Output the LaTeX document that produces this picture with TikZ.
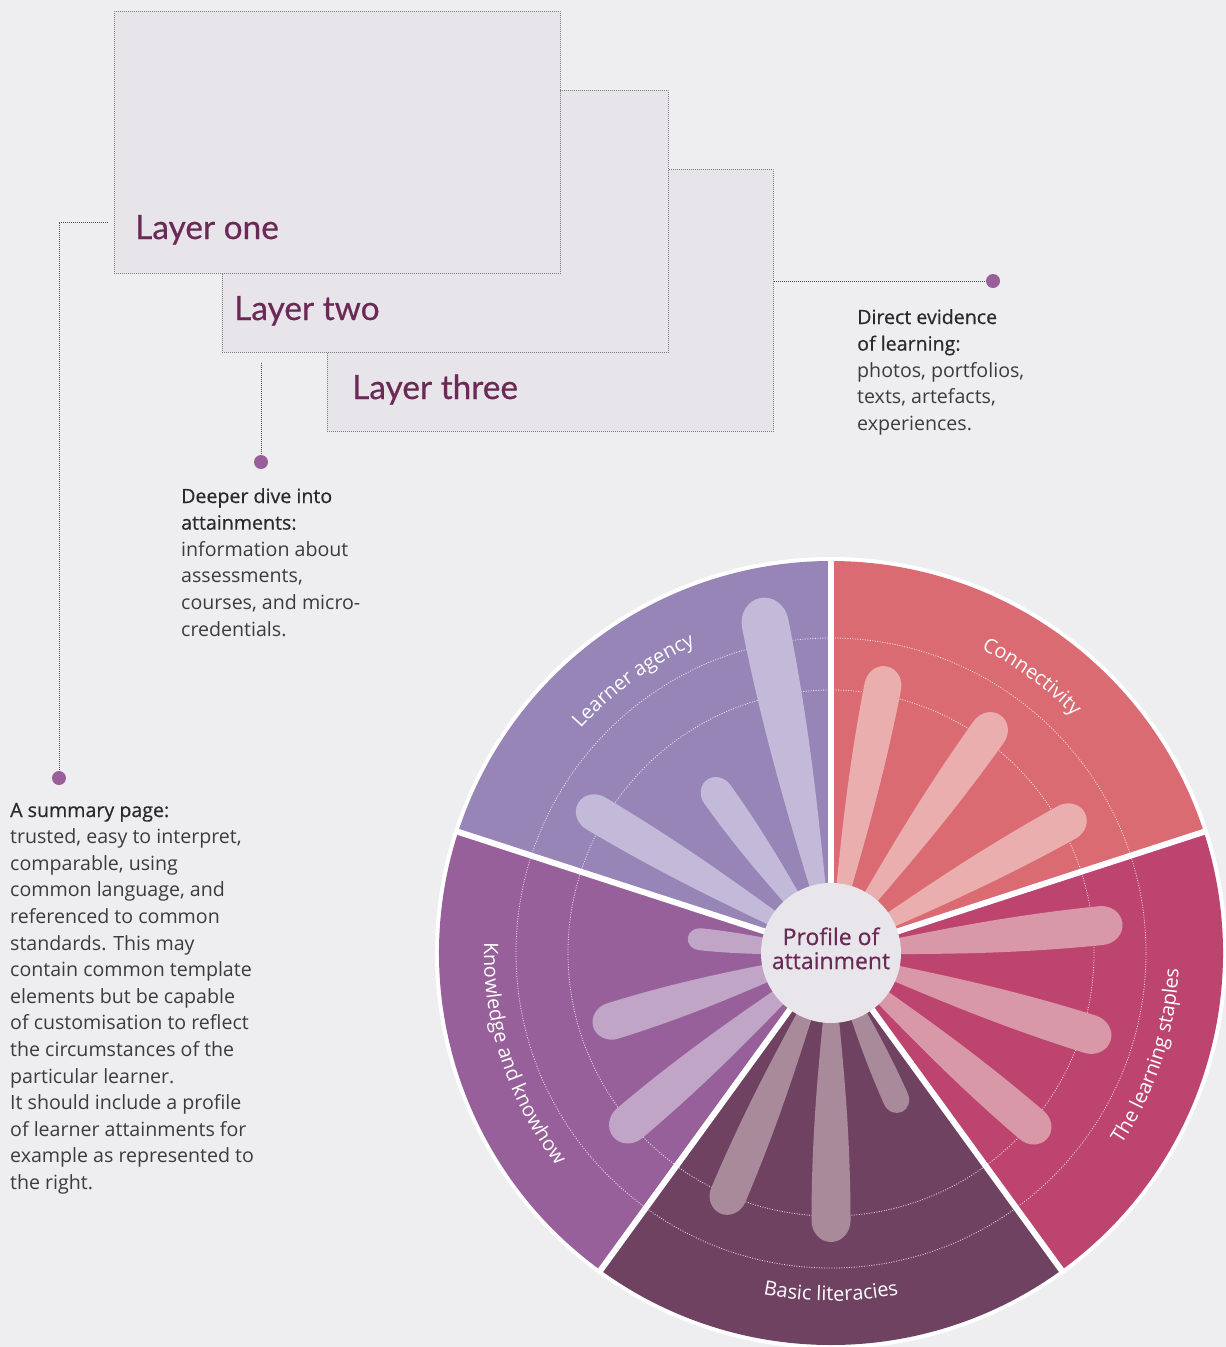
\documentclass[tikz,border=0pt]{standalone}
\usepackage{fontspec}
\setmainfont{Open Sans}
\newfontfamily\layerfont[FakeBold=0.6]{Lato}
\newfontfamily\hdrfont[FakeBold=0.5]{Open Sans}
\newfontfamily\segfont{Open Sans}
\usetikzlibrary{calc,decorations.text}
\definecolor{bg}{HTML}{EEEEF0}
\definecolor{boxfill}{HTML}{E8E5EA}
\definecolor{boxline}{HTML}{7A7A7A}
\definecolor{plum}{HTML}{6B2A56}
\definecolor{dotc}{HTML}{9A5E9B}
\definecolor{bodytxt}{HTML}{3C3C3C}
\definecolor{hdrtxt}{HTML}{2A2A2A}
\definecolor{ctr}{HTML}{E8E6EB}
\definecolor{sConn}{HTML}{DB6B73}
\definecolor{pConn}{HTML}{EAAEAE}
\definecolor{sStap}{HTML}{BE4470}
\definecolor{pStap}{HTML}{D998A8}
\definecolor{sLit}{HTML}{704262}
\definecolor{pLit}{HTML}{A88A9A}
\definecolor{sKnow}{HTML}{97609A}
\definecolor{pKnow}{HTML}{C1A5C7}
\definecolor{sAg}{HTML}{9685B6}
\definecolor{pAg}{HTML}{C3BAD9}
\newcommand\tl[1]{\begin{tabular}[t]{@{}l@{}}#1\end{tabular}}
\newcommand\hd[1]{{\hdrfont\color{hdrtxt}#1}}
\newcommand\seglab{\segfont\fontsize{20}{20}\selectfont\color{white}}
% angle, outer extent, tip half-width, colour
\newcommand\drawpetal[4]{%
  \begin{scope}[shift={(831,-953)},rotate=#1]
    \fill[#4] (0,-1.5) .. controls ({0.3*(#2-1.1*#3)},{-0.45*#3}) and ({0.6*(#2-1.1*#3)},{-#3}) .. ({#2-1.1*#3},{-#3})
      arc[start angle=-90,end angle=90,x radius={1.1*#3},y radius=#3]
      .. controls ({0.6*(#2-1.1*#3)},{#3}) and ({0.3*(#2-1.1*#3)},{0.45*#3}) .. (0,1.5) -- cycle;
  \end{scope}}
\newcommand\drawsector[3]{%
  \fill[#3] (831,-953) -- ([shift={(831,-953)}]#1:392) arc[start angle=#1,end angle=#2,radius=392] -- cycle;}
\begin{document}
\begin{tikzpicture}[x=1pt,y=1pt,
  layerbox/.style={draw=boxline, fill=boxfill, line width=0.8pt, dash pattern=on 0.8pt off 1.2pt,
    minimum width=446pt, minimum height=262pt, anchor=north west, inner sep=0pt},
  layerlabel/.style={font=\layerfont\fontsize{33.4}{33.4}\selectfont, text=plum, anchor=base west, inner sep=0pt},
  conn/.style={draw=black!70, line width=0.8pt, dash pattern=on 0.8pt off 1.2pt},
  dot/.style={circle, fill=dotc, minimum size=14pt, inner sep=0pt},
  body/.style={font=\fontsize{19.6}{26.6}\selectfont, text=bodytxt, anchor=base west, inner sep=0pt},
  ring/.style={white, line width=0.8pt, dash pattern=on 1pt off 1.5pt, opacity=0.8},
  divider/.style={white, line width=6pt}
]
\fill[bg] (0,0) rectangle (1226,-1347);
\useasboundingbox (0,0) rectangle (1226,-1347);

% layers
\node[layerbox] (L3) at (327,-169) {};
\node[layerbox] (L2) at (222,-90) {};
\node[layerbox] (L1) at (114,-11) {};
\node[layerlabel] (t1) at (135,-239) {Layer one};
\node[layerlabel] (t2) at (234,-320) {Layer two};
\node[layerlabel] (t3) at (352,-399) {Layer three};

% connectors and dots
\coordinate (c1) at (108,-222);
\coordinate (c2) at (261,-363);
\coordinate (c3) at (774,-281);
\node[dot] (d1) at (59,-778) {};
\node[dot] (d2) at (261,-462) {};
\node[dot] (d3) at (993,-281) {};
\draw[conn] (c1) -| (d1);
\draw[conn] (c2) -- (d2);
\draw[conn] (c3) -- (d3);

% text blocks
\node[body] (txt3) at (857,-324) {\tl{\hd{Direct evidence}\\\hd{of learning:}\\photos, portfolios,\\texts, artefacts,\\experiences.}};
\node[body] (txt2) at (181,-503) {\tl{\hd{Deeper dive into}\\\hd{attainments:}\\information about\\assessments,\\courses, and micro-\\credentials.}};
\node[body] (txt1) at (10,-817) {\tl{\hd{A summary page:}\\trusted, easy to interpret,\\comparable, using\\common language, and\\referenced to common\\standards. This may\\contain common template\\elements but be capable\\of customisation to reflect\\the circumstances of the\\particular learner.\\It should include a profile\\of learner attainments for\\example as represented to\\the right.}};

% wheel
\fill[white] (831,-953) circle[radius=396];
\drawsector{18}{90}{sConn}
\drawsector{-54}{18}{sStap}
\drawsector{-126}{-54}{sLit}
\drawsector{162}{234}{sKnow}
\drawsector{90}{162}{sAg}
\draw[ring] (831,-953) circle[radius=263];
\draw[ring] (831,-953) circle[radius=315];

% petals
\drawpetal{79}{292}{18.5}{pConn}
\drawpetal{54.5}{292}{18.5}{pConn}
\drawpetal{29}{290}{18.5}{pConn}
\drawpetal{5.8}{293}{19.5}{pStap}
\drawpetal{-17.4}{293}{19.5}{pStap}
\drawpetal{-40.6}{285}{18.5}{pStap}
\drawpetal{-113}{283}{18.5}{pLit}
\drawpetal{-90}{289}{19.5}{pLit}
\drawpetal{-66}{174}{13}{pLit}
\drawpetal{174}{144}{11}{pKnow}
\drawpetal{197.3}{249}{18.5}{pKnow}
\drawpetal{220.2}{285}{19.5}{pKnow}
\drawpetal{101.3}{362}{23.5}{pAg}
\drawpetal{125.6}{213}{16}{pAg}
\drawpetal{149.3}{294}{18.5}{pAg}

% dividers
\foreach \a in {90,18,-54,-126,162}
  \draw[divider] (831,-953) -- ++(\a:396);

% segment labels
\path[decorate, decoration={text along path, text align=center, text={|\seglab|Connectivity}}]
  ([shift={(831,-953)}]84:339) arc[start angle=84, end angle=24, radius=339];
\path[decorate, decoration={text along path, text align=center, text={|\seglab|Learner agency}}]
  ([shift={(831,-953)}]156:336) arc[start angle=156, end angle=96, radius=336];
\path[decorate, decoration={text along path, text align=center, text={|\seglab|The learning staples}}]
  ([shift={(831,-953)}]-50:348) arc[start angle=-50, end angle=14, radius=348];
\path[decorate, decoration={text along path, text align=center, text={|\seglab|Basic literacies}}]
  ([shift={(831,-953)}]-120:348) arc[start angle=-120, end angle=-60, radius=348];
\path[decorate, decoration={text along path, text align=center, text={|\seglab|Knowledge and knowhow}}]
  ([shift={(831,-953)}]166:347) arc[start angle=166, end angle=230, radius=347];

% centre
\node[circle, fill=ctr, minimum size=140pt, inner sep=0pt] (core) at (831,-953) {};
\node[font=\hdrfont\fontsize{23}{24}\selectfont, text=plum, anchor=base, inner sep=0pt] (coretxt) at (831,-945)
  {\begin{tabular}[t]{@{}c@{}}Profile of\\attainment\end{tabular}};
\end{tikzpicture}
\end{document}
